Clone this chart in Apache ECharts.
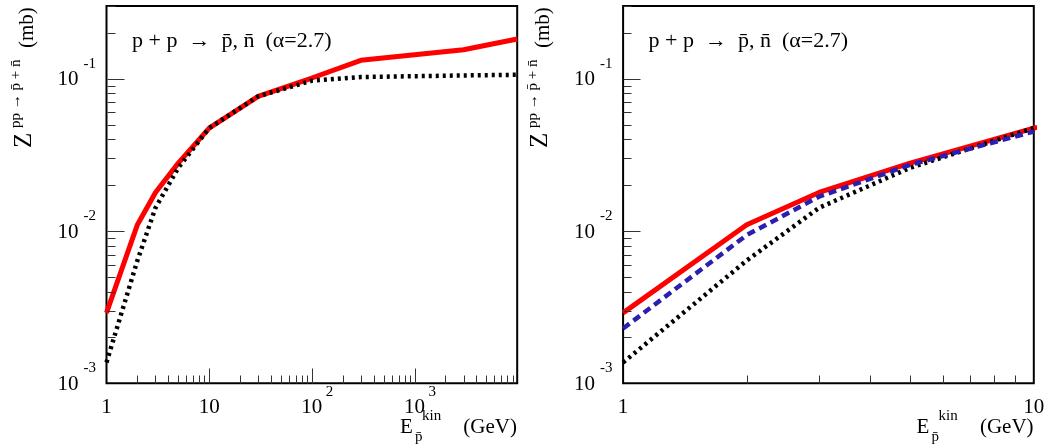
<!DOCTYPE html>
<html><head><meta charset="utf-8">
<script src="https://cdn.jsdelivr.net/npm/echarts@6/dist/echarts.min.js"></script>
<style>html,body{margin:0;padding:0;background:#fff}#c{width:1050px;height:448px}</style>
</head><body><div id="c"></div>
<script>
// ---- data ----
const energy = [1, 2, 3, 5, 10, 30, 100, 300, 3000, 10000];
const redZ   = [0.0029, 0.0110, 0.0179, 0.0279, 0.0474, 0.0766, 0.101, 0.132, 0.155, 0.182];
const blackZ = [0.00137, 0.0064, 0.0142, 0.0260, 0.0474, 0.0766, 0.097, 0.1025, 0.105, 0.106];
const blueEnergy = [1, 2, 3, 5, 10];
const blueZ      = [0.00229, 0.0094, 0.0168, 0.0272, 0.0450];
const yTickExps = [-3, -2, -1];
const leftXTickExps = [0, 1, 2, 3];
const rightXTickExps = [0, 1];
const annotation = 'p + p  \u2192  p\u0304, n\u0304  (\u03b1=2.7)';
const yTitleMain = 'Z', yTitleSup = 'pp \u2192 p\u0304 + n\u0304', yTitleUnit = '(mb)';
const xTitleMain = 'E', xTitleSub = 'p\u0304', xTitleSup = 'kin', xTitleUnit = '(GeV)';

const Y_MIN = 1e-3, Y_MAX = 0.3;
const FAMILY = 'Liberation Serif';
const pairs = (xs, ys) => xs.map((x, i) => [x, ys[i]]);
const txt = (text, size, align) => ({text, fontSize: size, fontFamily: FAMILY, fill: '#000', align, verticalAlign: 'middle'});

function tickData(xExps, xMax) {
  const d = [];
  xExps.forEach(e => {
    for (let k = 1; k <= 9; k++) {
      const v = k * Math.pow(10, e);
      if (v > xMax * 1.0001) break;
      if (k === 1 && e === 0) continue;
      d.push([v, Y_MIN, k === 1 ? 15 : 8, 0]);
    }
  });
  yTickExps.forEach(e => {
    for (let k = 1; k <= 9; k++) {
      const v = k * Math.pow(10, e);
      if (v > Y_MAX * 1.0001) break;
      if (v <= Y_MIN * 1.0001 && k === 1) continue;
      d.push([1, v, k === 1 ? 17 : 8, 1]);
    }
  });
  return d;
}
function labelData(xExps) {
  const d = [];
  xExps.forEach(e => d.push([Math.pow(10, e), Y_MIN, e, 0]));
  yTickExps.forEach(e => d.push([1, Math.pow(10, e), e, 1]));
  return d;
}
function renderTick(params, api) {
  const p = api.coord([api.value(0), api.value(1)]);
  const len = api.value(2);
  const x = Math.round(p[0]) + 0.5, y = Math.round(p[1]) + 0.5;
  const shape = api.value(3) === 0 ? {x1: x, y1: y, x2: x, y2: y - len} : {x1: x, y1: y, x2: x + len, y2: y};
  return {type: 'line', shape, style: {stroke: '#333', lineWidth: 1}};
}
function renderLabel(params, api) {
  const p = api.coord([api.value(0), api.value(1)]);
  const e = api.value(2);
  const children = [];
  if (api.value(3) === 0) {
    const base = e === 0 ? '1' : '10';
    children.push({type: 'text', x: p[0], y: p[1] + 24, style: txt(base, 21, 'center')});
    if (e >= 2) children.push({type: 'text', x: p[0] + 14, y: p[1] + 9, style: txt(String(e), 15, 'left')});
  } else {
    children.push({type: 'text', x: p[0] - 28, y: p[1] + 1, style: txt('10', 21, 'right')});
    children.push({type: 'text', x: p[0] - 23, y: p[1] - 15, style: txt(String(e), 15, 'left')});
  }
  return {type: 'group', children};
}

const grids = [
  {left: 106.5, top: 6, width: 410.7, height: 377.3},
  {left: 623.1, top: 6, width: 410.7, height: 377.3}
];
const axisCommon = {type: 'log', logBase: 10, axisLine: {show: false}, axisTick: {show: false}, axisLabel: {show: false}, splitLine: {show: false}, minorTick: {show: false}};

const lineStyles = {
  red: {color: '#ff0000', width: 5, type: 'solid', cap: 'butt'},
  black: {color: '#000000', width: 4.5, type: [3, 4], cap: 'butt'},
  blue: {color: '#2a1fb0', width: 4.5, type: [8, 5], cap: 'butt'}
};
function lineSeries(name, xi, data, st, z) {
  return {type: 'line', name, xAxisIndex: xi, yAxisIndex: xi, data, symbol: 'none', smooth: false, clip: true, z,
          lineStyle: st, itemStyle: {color: st.color}, emphasis: {disabled: true}};
}

const graphic = [];
[0, 516.6].forEach(dx => {
  graphic.push({type: 'text', x: 132 + dx, y: 41, style: txt(annotation, 22, 'left')});
  // x title
  graphic.push({type: 'text', x: 400 + dx, y: 427, style: txt(xTitleMain, 21, 'left')});
  graphic.push({type: 'text', x: 415 + dx, y: 437, style: txt(xTitleSub, 15, 'left')});
  graphic.push({type: 'text', x: 422 + dx, y: 416, style: txt(xTitleSup, 15, 'left')});
  graphic.push({type: 'text', x: 517 + dx, y: 427, style: txt(xTitleUnit, 21, 'right')});
  // y title (rotated)
  graphic.push({type: 'text', x: 24 + dx, y: 148, rotation: Math.PI / 2, style: txt(yTitleMain, 25, 'left')});
  graphic.push({type: 'text', x: 16 + dx, y: 128, rotation: Math.PI / 2, style: txt(yTitleSup, 15, 'left')});
  graphic.push({type: 'text', x: 27 + dx, y: 48, rotation: Math.PI / 2, style: txt(yTitleUnit, 21, 'left')});
});

const option = {
  animation: false,
  backgroundColor: '#fff',
  grid: grids.map(g => Object.assign({show: true, borderColor: '#000', borderWidth: 2, backgroundColor: 'transparent'}, g)),
  xAxis: [
    Object.assign({gridIndex: 0, min: 1, max: 10000}, axisCommon),
    Object.assign({gridIndex: 1, min: 1, max: 10}, axisCommon)
  ],
  yAxis: [
    Object.assign({gridIndex: 0, min: Y_MIN, max: Y_MAX}, axisCommon),
    Object.assign({gridIndex: 1, min: Y_MIN, max: Y_MAX}, axisCommon)
  ],
  graphic,
  series: [
    lineSeries('black dotted', 0, pairs(energy, blackZ), lineStyles.black, 3),
    lineSeries('red solid', 0, pairs(energy, redZ), lineStyles.red, 2),
    lineSeries('black dotted', 1, pairs(energy, blackZ), lineStyles.black, 3),
    lineSeries('red solid', 1, pairs(energy, redZ), lineStyles.red, 2),
    lineSeries('blue dashed', 1, pairs(blueEnergy, blueZ), lineStyles.blue, 4),
    {type: 'custom', xAxisIndex: 0, yAxisIndex: 0, data: tickData(leftXTickExps, 10000), renderItem: renderTick, z: 5, clip: false, silent: true},
    {type: 'custom', xAxisIndex: 1, yAxisIndex: 1, data: tickData(rightXTickExps, 10), renderItem: renderTick, z: 5, clip: false, silent: true},
    {type: 'custom', xAxisIndex: 0, yAxisIndex: 0, data: labelData(leftXTickExps), renderItem: renderLabel, z: 5, clip: false, silent: true},
    {type: 'custom', xAxisIndex: 1, yAxisIndex: 1, data: labelData(rightXTickExps), renderItem: renderLabel, z: 5, clip: false, silent: true}
  ]
};
const chart = echarts.init(document.getElementById('c'), null, {renderer: 'canvas'});
chart.setOption(option);
</script></body></html>
